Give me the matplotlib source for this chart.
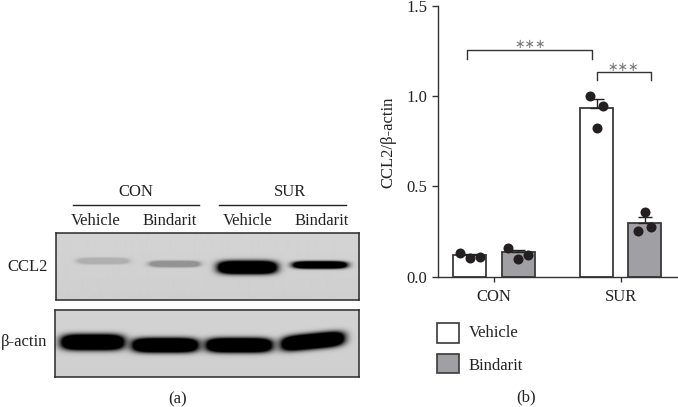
#!/usr/bin/env python3
"""Western blot panel (a) and CCL2/beta-actin bar chart (b)."""

import numpy as np
import matplotlib
matplotlib.use('Agg')
import matplotlib.pyplot as plt
from matplotlib.patches import Rectangle

plt.rcParams['font.family'] = ['Liberation Serif', 'DejaVu Serif']

W, H = 678, 407

# Bar chart values
groups = ['CON', 'SUR']
vehicle_mean = [0.118, 0.934]
vehicle_err = [0.010, 0.048]
bindarit_mean = [0.135, 0.300]
bindarit_err = [0.013, 0.028]
vehicle_points = [[0.129, 0.101, 0.109], [1.002, 0.825, 0.947]]
bindarit_points = [[0.160, 0.100, 0.120], [0.255, 0.360, 0.277]]
yticks = [0.0, 0.5, 1.0, 1.5]

# Blot band strength, one per lane (0 = no band, 1 = saturated)
ccl2_bands = [0.16, 0.30, 1.0, 1.0]
actin_bands = [1.0, 1.0, 1.0, 1.0]


def px_axes(fig, x0, y0, x1, y1):
    """Axes from pixel box, y measured from the top of the image."""
    return fig.add_axes([x0 / W, 1 - y1 / H, (x1 - x0) / W, (y1 - y0) / H])


def fig_text(fig, x, y, s, **kw):
    kw.setdefault('ha', 'center')
    kw.setdefault('va', 'center')
    kw.setdefault('fontsize', 12)
    kw.setdefault('color', '#222222')
    fig.text(x / W, 1 - y / H, s, **kw)


def draw_blot(fig, box, bands, lanes, background):
    """lanes: (x0, x1, yc, half height, tilt) in figure pixels."""
    x0, y0, x1, y1 = box
    xs, ys = np.meshgrid(np.arange(x0, x1, 0.5), np.arange(y0, y1, 0.5))
    img = background - 0.02 * (ys - y0) / (y1 - y0)
    for strength, (bx0, bx1, yc, hh, tilt) in zip(bands, lanes):
        cx = (bx0 + bx1) / 2
        hw = (bx1 - bx0) / 2
        yy = ys - (yc - tilt * (xs - cx) / hw)
        r = (np.abs((xs - cx) / hw) ** 5 + np.abs(yy / hh) ** 2.5)
        band = np.clip(2.6 * np.exp(-1.0 * r), 0, 1)
        img = img * (1 - strength * band)
    ax = px_axes(fig, x0, y0, x1, y1)
    ax.imshow(img, cmap='gray', vmin=0, vmax=1, aspect='auto')
    ax.set_xticks([])
    ax.set_yticks([])
    for s in ax.spines.values():
        s.set_linewidth(1.1)
        s.set_color('#2a2a2a')


fig = plt.figure(figsize=(W / 100, H / 100), dpi=100, facecolor='white')

# (a) blot
ccl2_lanes = [(78, 127, 261, 2.8, 0), (150, 198, 264, 2.8, 0),
              (218, 275, 267.5, 6.0, 0), (293, 345, 265, 3.3, 0)]
actin_lanes = [(62, 123, 342, 7.2, 0), (133, 197, 345, 6.6, 0),
               (207, 271, 345, 6.6, 0), (282, 343, 341, 7, 3)]
draw_blot(fig, (55.7, 233.3, 359, 300), ccl2_bands, ccl2_lanes, 0.83)
draw_blot(fig, (55, 310, 358.7, 376.7), actin_bands, actin_lanes, 0.83)

header = fig.add_axes([0, 0, 1, 1], facecolor='none')
header.set_xlim(0, W)
header.set_ylim(H, 0)
header.axis('off')
header.plot([72.7, 199], [204.7, 204.7], color='#222222', lw=1.0)
header.plot([219, 345.7], [204.7, 204.7], color='#222222', lw=1.0)

fig_text(fig, 136, 192, 'CON')
fig_text(fig, 290, 192, 'SUR')
for x, s in zip([96, 170, 247.7, 321.7], ['Vehicle', 'Bindarit', 'Vehicle', 'Bindarit']):
    fig_text(fig, x, 221, s)
fig_text(fig, 47.7, 266.7, 'CCL2', ha='right')
fig_text(fig, 47.7, 341.7, 'β-actin', ha='right')
fig_text(fig, 178, 399, '(a)')

# (b) bar chart
ax = px_axes(fig, 437.7, 5.7, 678, 276.7)
ax.patch.set_alpha(0)
ax.set_ylim(0, 1.5)
ax.set_xlim(-0.444, 1.452)

x = np.arange(len(groups))
offset = 0.19
width = 0.26
spread = [0.08, 0.05]  # dots sit closer together in the SUR bars
edge = '#3a3a3a'

for pos, means, errs, pts, col in [
        (x - offset, vehicle_mean, vehicle_err, vehicle_points, 'white'),
        (x + offset, bindarit_mean, bindarit_err, bindarit_points, '#a09fa4')]:
    ax.bar(pos, means, width, color=col, edgecolor=edge, linewidth=1.3, zorder=2)
    ax.errorbar(pos, means, yerr=[np.zeros(len(errs)), errs], fmt='none',
                ecolor='#222222', elinewidth=1.0, capsize=5, capthick=1.0, zorder=3)
    for p, vals, sp in zip(pos, pts, spread):
        ax.scatter(p + np.array([-sp, 0.0, sp]), vals, s=52, color='#231f20', zorder=4,
                   clip_on=False, linewidths=0)

# significance brackets
ax.plot([-0.215, -0.215, 0.777, 0.777], [1.205, 1.255, 1.255, 1.205], color='#333333', lw=1.0)
ax.plot([0.81, 0.81, 1.237, 1.237], [1.087, 1.131, 1.131, 1.087], color='#333333', lw=1.0)
ax.text(0.282, 1.283, '∗∗∗', ha='center', va='center', fontsize=9, color='#777777',
        family=['DejaVu Sans'])
ax.text(1.02, 1.160, '∗∗∗', ha='center', va='center', fontsize=9, color='#777777',
        family=['DejaVu Sans'])

ax.spines['top'].set_visible(False)
ax.spines['right'].set_visible(False)
for s in ['left', 'bottom']:
    ax.spines[s].set_linewidth(1.0)
    ax.spines[s].set_color('#333333')
ax.set_yticks(yticks)
ax.set_yticklabels([f'{v:.1f}' for v in yticks])
ax.set_xticks(x)
ax.set_xticklabels(groups)
ax.tick_params(axis='both', length=4.3, width=1.0, color='#333333',
               labelsize=12, labelcolor='#222222', pad=3)
ax.tick_params(axis='x', pad=5, length=3.5)
for lab in ax.get_yticklabels():
    lab.set_clip_on(False)

fig_text(fig, 388, 142, 'CCL2/β-actin', rotation=90)

# legend built by hand to sit under the axes
header.add_patch(Rectangle((437, 323.3), 21.5, 19.2, facecolor='white', edgecolor=edge, lw=1.2))
header.add_patch(Rectangle((437, 354), 21.5, 19.2, facecolor='#a09fa4', edgecolor=edge, lw=1.2))
fig_text(fig, 469, 333, 'Vehicle', ha='left')
fig_text(fig, 469, 366, 'Bindarit', ha='left')
fig_text(fig, 526, 397.7, '(b)')

fig.savefig('out.png', dpi=100)
